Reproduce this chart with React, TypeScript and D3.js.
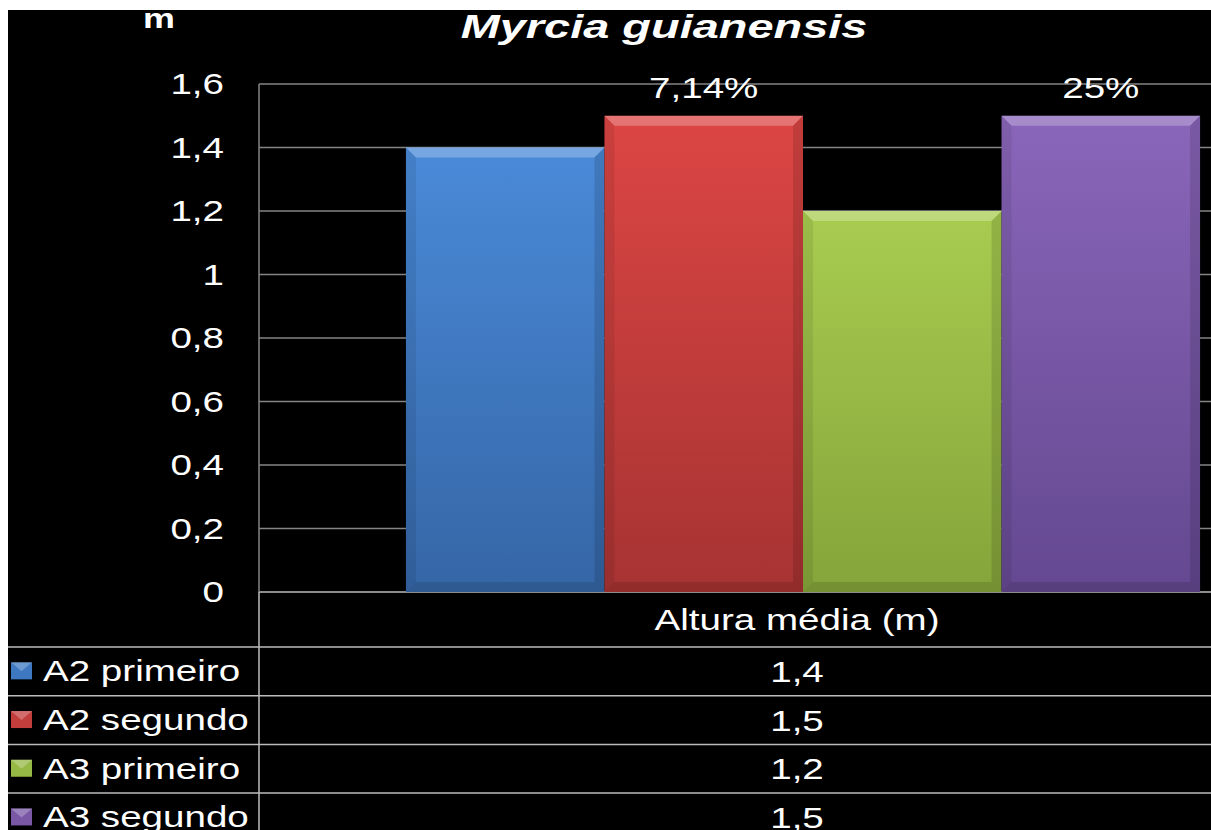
import React from "react";
import * as d3 from "d3";

// chart data
const categories = ["Altura média (m)"];
const seriesNames = ["A2 primeiro", "A2 segundo", "A3 primeiro", "A3 segundo"];
const seriesValues = [1.4, 1.5, 1.2, 1.5];
const valueLabels = ["1,4", "1,5", "1,2", "1,5"];
const barLabels = ["", "7,14%", "", "25%"];
const yTicks = [0, 0.2, 0.4, 0.6, 0.8, 1, 1.2, 1.4, 1.6];
const yTickLabels = ["0", "0,2", "0,4", "0,6", "0,8", "1", "1,2", "1,4", "1,6"];
const title = "Myrcia guianensis";
const yUnit = "m";

const colors = [
  { top: "#4a8ad8", bottom: "#3566a6", swatch: "#3d78c0" },
  { top: "#dc4644", bottom: "#a63332", swatch: "#c23e3c" },
  { top: "#a8cc50", bottom: "#85a43a", swatch: "#96b845" },
  { top: "#8a66ba", bottom: "#644890", swatch: "#7a58a6" },
];

const W = 1211;
const H = 830;
const left = 259;
const top = 84;
const bottom = 592;
const tableLeft = 8;
const headerBottom = 647;
const rowH = 48.7;
const sx = 1.33; // text in the picture is stretched horizontally
const font = "'Liberation Sans', Arial, sans-serif";

const Txt = ({ x, y, size, anchor = "start", bold = false, italic = false, stretch = sx, children }: any) => (
  <text
    transform={`translate(${x},${y}) scale(${stretch},1)`}
    fontSize={size}
    fontFamily={font}
    fontWeight={bold ? "bold" : "normal"}
    fontStyle={italic ? "italic" : "normal"}
    textAnchor={anchor}
    fill="#ffffff"
  >
    {children}
  </text>
);

const App: React.FC = () => {
  const y = d3.scaleLinear().domain([0, 1.6]).range([bottom, top]);
  const x0 = d3.scaleBand().domain(categories).range([left, 1347]);
  const x1 = d3
    .scaleBand()
    .domain(seriesNames)
    .range([0, x0.bandwidth()])
    .paddingInner(0)
    .paddingOuter(0.74);
  const bw = x1.bandwidth();
  const b = 10;
  const tableX = (x0(categories[0]) as number) + x0.bandwidth() / 2 - 6;

  return (
    <svg
      width={W - 8}
      height={H - 10}
      style={{ position: "absolute", left: 8, top: 10, background: "#000" }}
    >
      <defs>
        {colors.map((c, i) => (
          <linearGradient key={i} id={"g" + i} x1="0" y1="0" x2="0" y2="1">
            <stop offset="0" stopColor={c.top} />
            <stop offset="1" stopColor={c.bottom} />
          </linearGradient>
        ))}
      </defs>
      <g transform="translate(-8,-10)">
        <rect x={0} y={0} width={W} height={H} fill="#000" />

        {/* gridlines */}
        {yTicks.map((t) => (
          <line
            key={t}
            x1={left}
            x2={W}
            y1={y(t)}
            y2={y(t)}
            stroke={t === 0 ? "#bdbdbd" : "#858585"}
            strokeWidth={1.5}
          />
        ))}

        {/* bars */}
        {categories.map((cat) =>
          seriesNames.map((s, i) => {
            const bx = (x0(cat) as number) + (x1(s) as number);
            const by = y(seriesValues[i]);
            const yb = y(0);
            const xr = bx + bw;
            return (
              <g key={s}>
                <rect x={bx} y={by} width={bw} height={yb - by} fill={`url(#g${i})`} />
                <polygon
                  points={`${bx},${by} ${xr},${by} ${xr - b},${by + b} ${bx + b},${by + b}`}
                  fill="#fff"
                  opacity={0.25}
                />
                <polygon
                  points={`${bx},${by} ${bx + b},${by + b} ${bx + b},${yb - b} ${bx},${yb}`}
                  fill="#000"
                  opacity={0.08}
                />
                <polygon
                  points={`${xr},${by} ${xr - b},${by + b} ${xr - b},${yb - b} ${xr},${yb}`}
                  fill="#000"
                  opacity={0.12}
                />
                <polygon
                  points={`${bx},${yb} ${bx + b},${yb - b} ${xr - b},${yb - b} ${xr},${yb}`}
                  fill="#000"
                  opacity={0.12}
                />
                {barLabels[i] && (
                  <Txt x={bx + bw / 2} y={by - 18} size={29} anchor="middle">
                    {barLabels[i]}
                  </Txt>
                )}
              </g>
            );
          })
        )}

        {/* y axis line */}
        <line x1={left} x2={left} y1={top} y2={bottom} stroke="#858585" strokeWidth={1.5} />
        <line x1={left} x2={left} y1={bottom} y2={H} stroke="#bdbdbd" strokeWidth={1.5} />

        {/* y tick labels */}
        {yTicks.map((t, i) => (
          <Txt key={t} x={224} y={y(t) + 10} size={29} anchor="end">
            {yTickLabels[i]}
          </Txt>
        ))}

        <Txt x={159} y={28} size={27} anchor="middle" bold>
          {yUnit}
        </Txt>
        <Txt x={664} y={38} size={34} anchor="middle" bold italic stretch={1.38}>
          {title}
        </Txt>

        {/* data table */}
        {categories.map((cat) => (
          <Txt key={cat} x={tableX} y={(bottom + headerBottom) / 2 + 10.5} size={29} anchor="middle">
            {cat}
          </Txt>
        ))}
        {seriesNames.map((s, i) => {
          const ry = headerBottom + i * rowH;
          const cy = ry + rowH / 2;
          return (
            <g key={s}>
              <line x1={tableLeft} x2={W} y1={ry} y2={ry} stroke="#bdbdbd" strokeWidth={1.5} />
              <rect x={11} y={cy - 9} width={21} height={17} fill={colors[i].swatch} />
              <polygon
                points={`11,${cy - 9} 32,${cy - 9} 21.5,${cy}`}
                fill="#fff"
                opacity={0.25}
              />
              <Txt x={43} y={cy + 10} size={29}>
                {s}
              </Txt>
              <Txt x={tableX} y={cy + 10.5} size={29} anchor="middle">
                {valueLabels[i]}
              </Txt>
            </g>
          );
        })}
      </g>
    </svg>
  );
};

export default App;
